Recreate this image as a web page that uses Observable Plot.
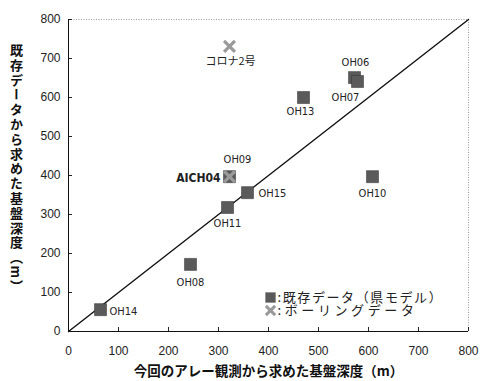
<!DOCTYPE html>
<html><head><meta charset="utf-8">
<script src="https://cdn.jsdelivr.net/npm/d3@7"></script>
<script src="https://cdn.jsdelivr.net/npm/@observablehq/plot@0.6"></script>
<style>
body{margin:0;background:#fff;}
svg{font-family:"Liberation Sans","Noto Sans CJK JP",sans-serif;}
</style></head>
<body><div id="chart"></div>
<script>
// 既存データ（県モデル）
const modelNames = ["OH14","OH08","OH11","OH15","OH09","OH10","OH13","OH06","OH07"];
const modelArray = [64,244,318,358,322,608,470,572,578];     // 今回のアレー観測から求めた基盤深度
const modelExisting = [56,172,318,356,397,397,600,651,641];  // 既存データから求めた基盤深度
// ボーリングデータ
const boringNames = ["コロナ2号","AICH04"];
const boringArray = [322,322];
const boringExisting = [731,397];
// axes
const axisDomain = [0,800];
const tickValues = [0,100,200,300,400,500,600,700,800];
const xLabel = "今回のアレー観測から求めた基盤深度（m）";
const yLabel = "既存データから求めた基盤深度（m）";
const legendLabels = [":既存データ（県モデル）", ":ボーリングデータ"];

const model = modelNames.map((n,i)=>({name:n,x:modelArray[i],y:modelExisting[i]}));
const boring = boringNames.map((n,i)=>({name:n,x:boringArray[i],y:boringExisting[i]}));

// label placement (pixels): [dx, dy, anchor]
const place = {
  OH14:[9,2,"start"], OH08:[0,18,"middle"], OH11:[0,16,"middle"], OH15:[11,1,"start"],
  OH09:[8,-17,"middle"], OH10:[0,17,"middle"], OH13:[-3,14,"middle"], OH06:[1,-15,"middle"],
  OH07:[-12,16,"middle"], "コロナ2号":[1,15,"middle"], AICH04:[-9,1,"end"]
};
const labelFont = "'Liberation Sans Narrow','DejaVu Sans Condensed','Noto Sans CJK JP',sans-serif";
const labelMarks = [...model, ...boring].map(d => {
  const [dx,dy,anchor] = place[d.name];
  const bold = d.name === "AICH04";
  return Plot.text([d], {x:"x", y:"y", text:"name", dx, dy, textAnchor:anchor,
    fontSize: bold ? 12 : 11, fontWeight: bold ? "bold" : "normal",
    fontFamily: d.name==="コロナ2号" ? "'Noto Sans CJK JP',sans-serif" : labelFont, fill:"#222"});
});

const sqColor = "#5a5a5a", xColor = "#9a9a9a";
const cjk = "'Noto Sans CJK JP',sans-serif";

const chart = Plot.plot({
  width:483, height:381,
  marginLeft:68, marginRight:15, marginTop:19, marginBottom:50,
  x:{domain:axisDomain, ticks:tickValues, label:null},
  y:{domain:axisDomain, ticks:tickValues, label:null},
  style:{fontSize:"12px", color:"#222", background:"#fff"},
  marks:[
    Plot.frame({stroke:"#999", strokeDasharray:"1,1.5"}),
    Plot.axisX({ticks:tickValues, tickSize:-4, tickPadding:19, fontSize:12, label:null}),
    Plot.axisY({ticks:tickValues, tickSize:-4, tickPadding:12, fontSize:12, label:null}),
    Plot.ruleY([axisDomain[0]], {stroke:"#111"}),
    Plot.ruleX([axisDomain[0]], {stroke:"#111"}),
    Plot.line(axisDomain, {x:d=>d, y:d=>d, stroke:"#111", strokeWidth:1.4}),
    Plot.dot(model, {x:"x", y:"y", symbol:"square", r:6.8, fill:sqColor, stroke:"#333", strokeWidth:0.5}),
    Plot.dot(boring, {x:"x", y:"y", symbol:"times", r:5, stroke:xColor, strokeWidth:3.2}),
    ...labelMarks,
    // legend
    Plot.dot([0], {frameAnchor:"bottom-left", dx:202, dy:-34, symbol:"square", r:5.8, fill:sqColor}),
    Plot.dot([0], {frameAnchor:"bottom-left", dx:202, dy:-21, symbol:"times", r:4.3, stroke:xColor, strokeWidth:3}),
    Plot.text([legendLabels.join("\n")], {frameAnchor:"bottom-left", dx:209, dy:-27.5, lineAnchor:"middle", lineHeight:1.0, textAnchor:"start", fontSize:13, fill:"#222", fontFamily:cjk}),
    // axis titles
    Plot.text([xLabel], {frameAnchor:"bottom", dy:44, fontSize:13.5, fontWeight:"bold", fill:"#111", fontFamily:cjk}),
    Plot.text([yLabel], {frameAnchor:"top-left", dx:-52, dy:24, textAnchor:"start", fontSize:13, fontWeight:"bold", fill:"#111", fontFamily:cjk})
  ]
});
document.getElementById("chart").appendChild(chart);
// make the y title vertical (upright CJK writing)
chart.querySelectorAll("text").forEach(t => {
  if (t.textContent === yLabel) {
    t.setAttribute("style", "writing-mode:vertical-rl;text-orientation:mixed;letter-spacing:1.8px;text-anchor:start;");
    t.removeAttribute("y");
    t.querySelectorAll("tspan").forEach(s=>s.removeAttribute("y"));
  }
});
chart.querySelectorAll("tspan").forEach(s => {
  if (s.textContent === legendLabels[0]) s.style.letterSpacing = "1.6px";
  if (s.textContent === legendLabels[1]) s.style.letterSpacing = "3.6px";
});
</script>
</body></html>
